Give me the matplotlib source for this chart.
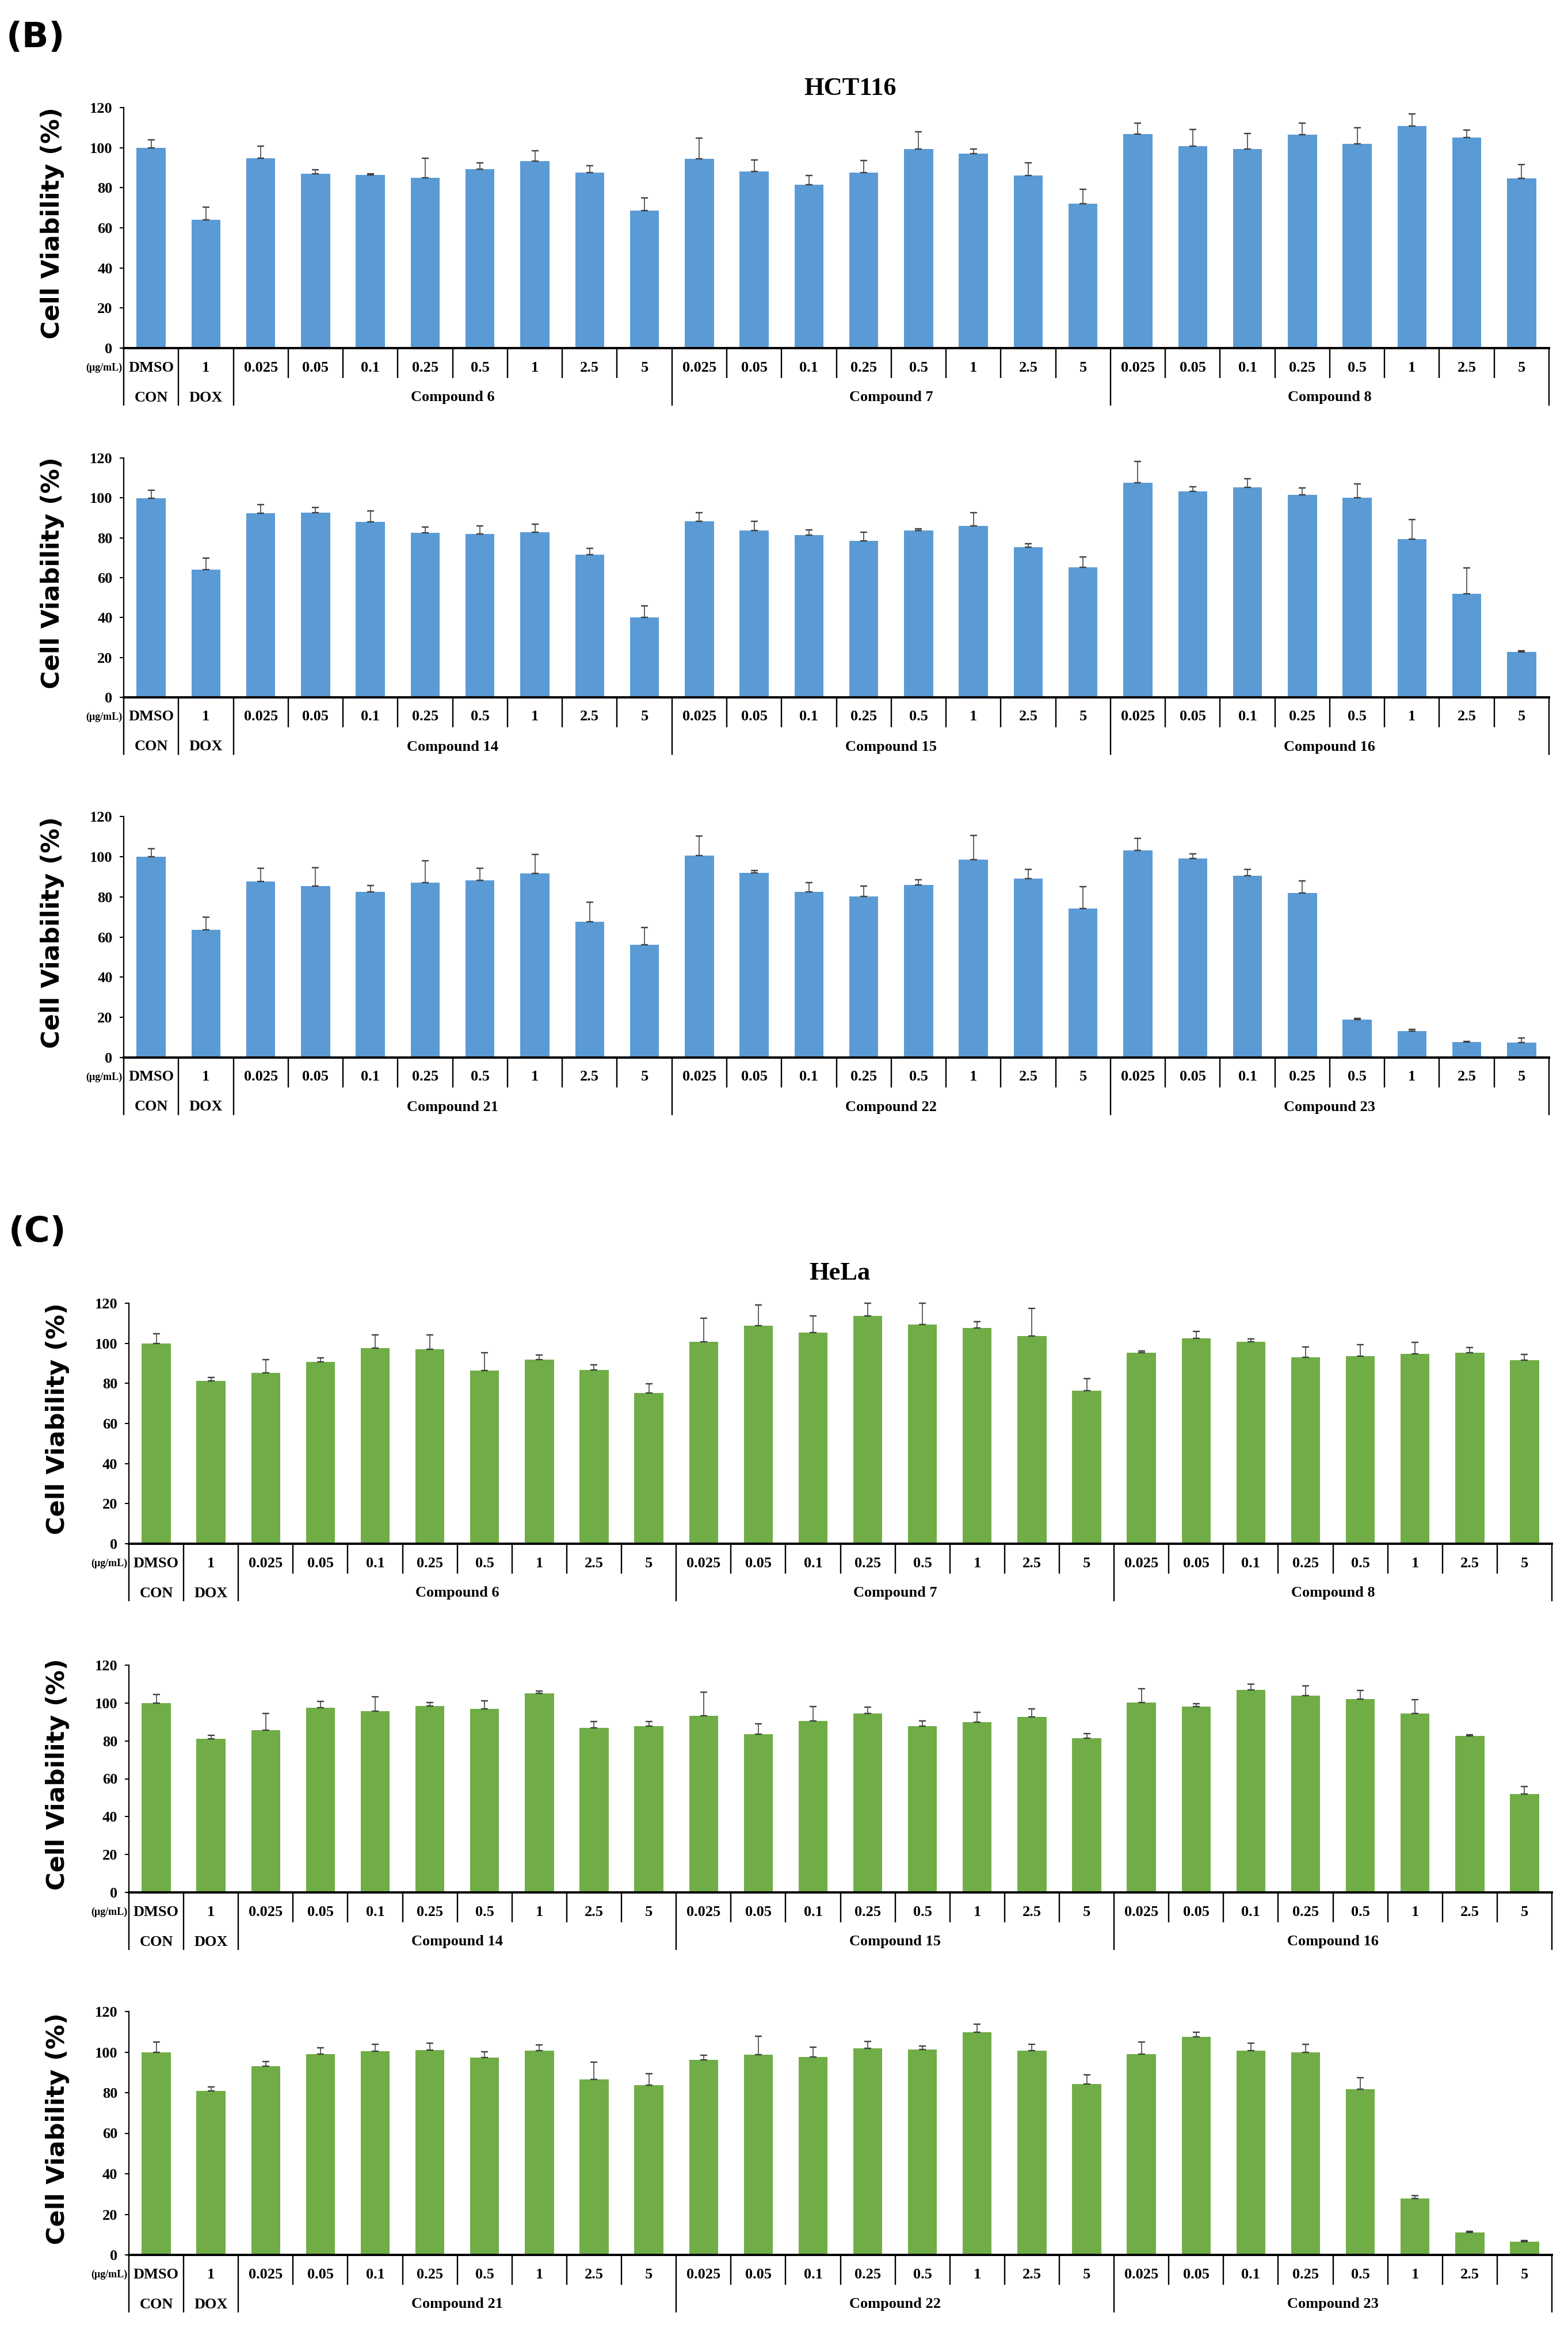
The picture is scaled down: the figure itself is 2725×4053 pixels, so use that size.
import matplotlib
matplotlib.use("Agg")
import matplotlib.pyplot as plt
import matplotlib.transforms as mtransforms
import numpy as np

# ---------------- data ----------------
conc_labels = ['0.025', '0.05', '0.1', '0.25', '0.5', '1', '2.5', '5']
ctrl_labels = ['DMSO', '1']
ctrl_groups = ['CON', 'DOX']

# HCT116 (panel B)
b1_compounds = ['Compound 6', 'Compound 7', 'Compound 8']
b1_ctrl = [100.0, 64.1]
b1_ctrl_err = [4.0, 6.1]
b1_vals = [[94.7, 87.0, 86.4, 85.1, 89.4, 93.4, 87.6, 68.6],
           [94.4, 88.1, 81.5, 87.6, 99.4, 97.1, 86.2, 72.1],
           [106.8, 100.8, 99.4, 106.6, 101.8, 110.8, 105.2, 84.8]]
b1_errs = [[6.1, 1.9, 0.6, 9.5, 3.0, 5.1, 3.3, 6.2],
           [10.4, 5.7, 4.6, 5.9, 8.5, 2.1, 6.2, 7.2],
           [5.4, 8.4, 7.8, 5.6, 8.2, 6.0, 3.5, 6.7]]

b2_compounds = ['Compound 14', 'Compound 15', 'Compound 16']
b2_ctrl = [99.9, 63.9]
b2_ctrl_err = [3.9, 6.0]
b2_vals = [[92.2, 92.6, 87.9, 82.4, 81.8, 82.9, 71.4, 40.2],
           [88.2, 83.6, 81.4, 78.4, 83.6, 86.0, 75.3, 65.1],
           [107.6, 103.3, 105.2, 101.5, 100.1, 79.2, 51.8, 22.7]]
b2_errs = [[4.3, 2.5, 5.7, 3.1, 4.1, 3.8, 3.4, 5.7],
           [4.5, 4.6, 2.4, 4.3, 0.9, 6.7, 1.6, 5.3],
           [10.6, 2.3, 4.4, 3.6, 6.9, 10.0, 13.0, 0.7]]

b3_compounds = ['Compound 21', 'Compound 22', 'Compound 23']
b3_ctrl = [100.0, 63.7]
b3_ctrl_err = [4.0, 6.1]
b3_vals = [[87.6, 85.3, 82.5, 87.0, 88.2, 91.6, 67.5, 56.1],
           [100.5, 91.9, 82.5, 80.1, 85.8, 98.6, 89.1, 74.2],
           [103.0, 99.1, 90.5, 82.0, 18.8, 13.2, 7.6, 7.5]]
b3_errs = [[6.7, 9.3, 3.2, 11.0, 6.1, 9.6, 9.7, 8.6],
           [9.8, 1.1, 4.6, 5.2, 2.6, 11.9, 4.5, 10.8],
           [6.0, 2.3, 3.2, 5.8, 0.6, 0.8, 0.4, 2.2]]

# HeLa (panel C)
c1_compounds = ['Compound 6', 'Compound 7', 'Compound 8']
c1_ctrl = [100.0, 81.3]
c1_ctrl_err = [4.7, 1.7]
c1_vals = [[85.3, 90.6, 97.5, 96.9, 86.3, 91.8, 86.8, 75.2],
           [100.7, 108.8, 105.3, 113.8, 109.4, 107.7, 103.7, 76.3],
           [95.2, 102.5, 100.7, 93.1, 93.6, 94.7, 95.2, 91.5]]
c1_errs = [[6.6, 2.1, 6.7, 7.3, 8.9, 2.5, 2.5, 4.6],
           [11.8, 10.3, 8.5, 6.3, 10.5, 3.1, 13.7, 6.0],
           [0.9, 3.4, 1.4, 5.2, 5.7, 5.9, 2.6, 2.9]]

c2_compounds = ['Compound 14', 'Compound 15', 'Compound 16']
c2_ctrl = [100.0, 81.0]
c2_ctrl_err = [4.6, 2.0]
c2_vals = [[85.7, 97.6, 95.7, 98.4, 96.8, 105.1, 86.9, 87.9],
           [93.2, 83.4, 90.4, 94.5, 87.9, 89.8, 92.7, 81.3],
           [100.4, 98.2, 106.8, 103.8, 102.0, 94.5, 82.5, 52.1]]
c2_errs = [[8.7, 3.3, 7.5, 2.0, 4.4, 1.1, 3.4, 2.4],
           [12.6, 5.5, 7.6, 3.3, 2.5, 5.4, 4.3, 2.5],
           [7.1, 1.4, 3.1, 5.4, 4.5, 7.2, 0.7, 3.7]]

c3_compounds = ['Compound 21', 'Compound 22', 'Compound 23']
c3_ctrl = [100.0, 80.9]
c3_ctrl_err = [5.0, 2.0]
c3_vals = [[93.1, 98.9, 100.4, 101.0, 97.4, 100.6, 86.6, 83.6],
           [96.1, 98.7, 97.5, 101.8, 101.2, 109.7, 100.6, 84.3],
           [99.0, 107.5, 100.6, 99.8, 81.8, 27.9, 11.1, 6.5]]
c3_errs = [[2.3, 3.1, 3.5, 3.5, 2.8, 3.0, 8.3, 5.8],
           [2.3, 9.2, 5.0, 3.5, 1.8, 4.1, 3.3, 4.4],
           [6.1, 2.4, 3.8, 4.1, 5.6, 1.4, 0.6, 0.6]]

yticks = [0, 20, 40, 60, 80, 100, 120]

# ---------------- style ----------------
W, H = 2725, 4053
BLUE = '#5B9BD5'
GREEN = '#70AD47'
SERIF = ['Liberation Serif', 'DejaVu Serif']
SANS = ['DejaVu Sans']
PX = 72.0 / 100.0  # points per pixel at dpi 100

fig = plt.figure(figsize=(W / 100, H / 100), dpi=100)
fig.patch.set_facecolor('white')


def draw_chart(left, right, top, bottom, ctrl, ctrl_err, vals, errs, compounds, color, ylab_x):
    ax = fig.add_axes([left / W, 1 - bottom / H, (right - left) / W, (bottom - top) / H])
    h = bottom - top
    values = list(ctrl) + [v for g in vals for v in g]
    errors = list(ctrl_err) + [e for g in errs for e in g]
    n = len(values)
    x = np.arange(n)
    ax.bar(x, values, width=0.53, color=color, zorder=2)
    ax.errorbar(x, values, yerr=[np.zeros(n), errors], fmt='none', ecolor='#404040',
                elinewidth=1.6 * PX, capsize=4, capthick=2.4 * PX, zorder=3, clip_on=False)
    ax.set_xlim(-0.5, n - 0.5)
    ax.set_ylim(0, 120)
    ax.set_yticks(yticks)
    ax.set_yticklabels([str(t) for t in yticks], fontfamily=SERIF, fontweight='bold', fontsize=19)
    ax.tick_params(axis='y', direction='out', length=7 * PX, width=2 * PX, pad=9)
    ax.set_xticks([])
    for s in ['top', 'right']:
        ax.spines[s].set_visible(False)
    ax.spines['left'].set_linewidth(2.2 * PX)
    ax.spines['bottom'].set_linewidth(4.0 * PX)
    ax.spines['bottom'].set_zorder(4)

    trans = mtransforms.blended_transform_factory(ax.transData, ax.transAxes)
    y_short = -52.0 / h
    y_long = -100.0 / h
    group_bounds = [-0.5, 0.5, 1.5, 9.5, 17.5, 25.5]
    for b in np.arange(-0.5, n, 1.0):
        yl = y_long if b in group_bounds else y_short
        ax.plot([b, b], [0, yl], color='black', lw=2.4 * PX, transform=trans, clip_on=False,
                solid_capstyle='butt')

    tick_labels = ctrl_labels + conc_labels * 3
    for xi, lab in zip(x, tick_labels):
        ax.text(xi, -34.0 / h, lab, transform=trans, ha='center', va='center',
                fontfamily=SERIF, fontweight='bold', fontsize=19)
    ax.text(-0.53, -34.0 / h, '(\u03bcg/mL)', transform=trans, ha='right', va='center',
            fontfamily=SERIF, fontweight='bold', fontsize=13)
    for xi, lab in zip([0, 1], ctrl_groups):
        ax.text(xi, -86.0 / h, lab, transform=trans, ha='center', va='center',
                fontfamily=SERIF, fontweight='bold', fontsize=19)
    for gi, lab in enumerate(compounds):
        ax.text(5.5 + 8 * gi, -86.0 / h, lab, transform=trans, ha='center', va='center',
                fontfamily=SERIF, fontweight='bold', fontsize=19)

    fig.text(ylab_x / W, 1 - ((top + bottom) / 2 - 8) / H, 'Cell Viability (%)', rotation=90,
             ha='center', va='center', fontfamily=SANS, fontweight='bold', fontsize=31)
    return ax


draw_chart(215, 2692, 187, 605, b1_ctrl, b1_ctrl_err, b1_vals, b1_errs, b1_compounds, BLUE, 91)
draw_chart(215, 2692, 796, 1212, b2_ctrl, b2_ctrl_err, b2_vals, b2_errs, b2_compounds, BLUE, 91)
draw_chart(215, 2692, 1419, 1838, b3_ctrl, b3_ctrl_err, b3_vals, b3_errs, b3_compounds, BLUE, 91)
draw_chart(224, 2697, 2265, 2683, c1_ctrl, c1_ctrl_err, c1_vals, c1_errs, c1_compounds, GREEN, 100)
draw_chart(224, 2697, 2894, 3289, c2_ctrl, c2_ctrl_err, c2_vals, c2_errs, c2_compounds, GREEN, 100)
draw_chart(224, 2697, 3496, 3919, c3_ctrl, c3_ctrl_err, c3_vals, c3_errs, c3_compounds, GREEN, 100)

# panel labels and titles
fig.text(62 / W, 1 - 66 / H, '(B)', ha='center', va='center', fontfamily=SANS,
         fontweight='bold', fontsize=44)
fig.text(65 / W, 1 - 2142 / H, '(C)', ha='center', va='center', fontfamily=SANS,
         fontweight='bold', fontsize=44)
fig.text(1478 / W, 1 - 154 / H, 'HCT116', ha='center', va='center', fontfamily=SERIF,
         fontweight='bold', fontsize=32)
fig.text(1459 / W, 1 - 2213 / H, 'HeLa', ha='center', va='center', fontfamily=SERIF,
         fontweight='bold', fontsize=32)

fig.savefig('out.png', dpi=100, facecolor='white')
